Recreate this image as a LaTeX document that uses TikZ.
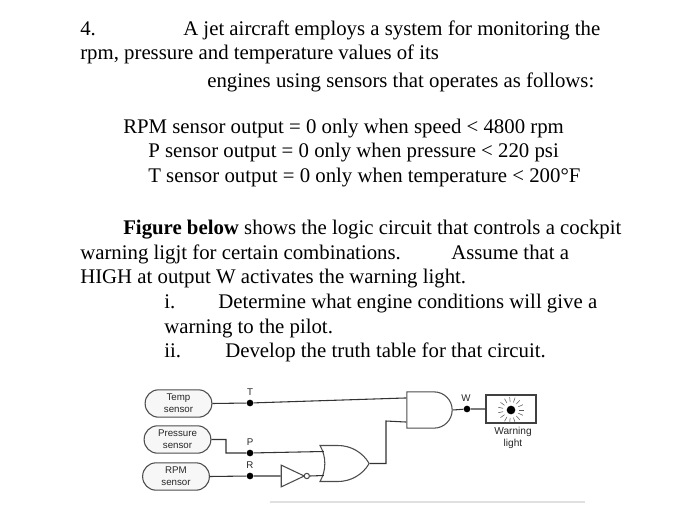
\documentclass[tikz,border=0pt]{standalone}
\usepackage{fontspec}
\setmainfont{Liberation Serif}
\newfontfamily\labelfont{Liberation Sans}
\usetikzlibrary{shapes.gates.logic.US}
\tikzset{
    para/.style={anchor=base west, inner sep=0pt, font=\fontsize{15.6}{18}\selectfont},
    sensor/.style={draw=black!70, fill=black!3, thick, rounded corners=10pt, align=center, minimum width=50pt, minimum height=20.5pt, inner sep=0pt, font=\labelfont\fontsize{7.3}{9}\selectfont, text=black!85},
    wire/.style={draw=black!80, thick},
    tap/.style={circle, fill=black, inner sep=0pt, minimum size=5pt},
    tag/.style={inner sep=0pt, font=\labelfont\fontsize{7.3}{9}\selectfont, text=black!85},
    gate/.style={draw=black!70, thick, inner sep=0pt, logic gate input sep=7pt}
}
\begin{document}
\begin{tikzpicture}[x=0.75pt, y=-0.75pt]
    \useasboundingbox (0,0) rectangle (700,506);
    % problem text
    \node[para] (num) at (80,36) {4.};
    \node[para] (l1) at (183,36) {A jet aircraft employs a system for monitoring the};
    \node[para] (l2) at (80,60) {rpm, pressure and temperature values of its};
    \node[para] (l3) at (207,88) {engines using sensors that operates as follows:};
    \node[para] (rpm) at (123,134) {RPM sensor output = 0 only when speed < 4800 rpm};
    \node[para] (psi) at (148,158) {P sensor output = 0 only when pressure < 220 psi};
    \node[para] (deg) at (148,183) {T sensor output = 0 only when temperature < 200°F};
    \node[para] (fig) at (123,234) {\textbf{Figure below} shows the logic circuit that controls a cockpit};
    \node[para] (l4) at (80,259) {warning ligjt for certain combinations.};
    \node[para] (l5) at (451,259) {Assume that a};
    \node[para] (l6) at (80,283) {HIGH at output W activates the warning light.};
    \node[para] (i) at (164,308) {i.};
    \node[para] (q1) at (218,308) {Determine what engine conditions will give a};
    \node[para] (q2) at (164,333) {warning to the pilot.};
    \node[para] (ii) at (164,357) {ii.};
    \node[para] (q3) at (225,357) {Develop the truth table for that circuit.};
    % sensors
    \node[sensor] (temp) at (178.5,403.5) {Temp\\sensor};
    \node[sensor] (press) at (177.5,439.5) {Pressure\\sensor};
    \node[sensor] (rpmsens) at (176,476.5) {RPM\\sensor};
    % gates
    \node[gate, and gate US, logic gate inputs=nn, minimum width=34pt, minimum height=27pt] (andg) at (428,410) {};
    \node[gate, or gate US, logic gate inputs=nn, minimum width=34pt, minimum height=27pt] (org) at (341,463.5) {};
    \node[gate, not gate US, minimum width=11pt, minimum height=13pt] (inv) at (289,476) {};
    % warning light
    \node[draw=black!75, thick, minimum width=37.5pt, minimum height=21pt, inner sep=0pt] (lamp) at (511,409) {};
    \node[circle, fill=black, inner sep=0pt, minimum size=6.5pt] (bulb) at (511,410) {};
    \foreach \a in {0,24,...,336}
        \draw[black!65, thin] (bulb.center) ++(\a:8) -- ++(\a:5);
    \node[tag, align=center, font=\labelfont\fontsize{7.6}{9}\selectfont] (warn) at (513,438) {Warning\\light};
    % taps
    \node[tap] (tT) at (250,403) {};
    \node[tap] (tP) at (250,453) {};
    \node[tap] (tR) at (250,476) {};
    \node[tap] (tW) at (467,409) {};
    \node[tag] (lT) at (250,392) {T};
    \node[tag] (lP) at (250,442) {P};
    \node[tag] (lR) at (250,465) {R};
    \node[tag] (lW) at (466,398) {W};
    % wires
    \draw[wire] (temp.east) -- (tT) -- ([yshift=4.5pt]andg.input 1);
    \draw[wire] (press.east) -| (226,453) -- (tP) -- ([yshift=4.5pt]org.input 1);
    \draw[wire] (rpmsens.east) -- (tR) -- (inv.input);
    \draw[wire] (inv.output) -- ([yshift=-4.5pt]org.input 2);
    \draw[wire] (org.output) -| (386,421) -- ([yshift=-4.5pt]andg.input 2);
    \draw[wire] (andg.output) -- (tW) -- (lamp.west);
    % edge of the scan
    \draw[black!12, thick] (270,502) -- (585,502);
\end{tikzpicture}
\end{document}
